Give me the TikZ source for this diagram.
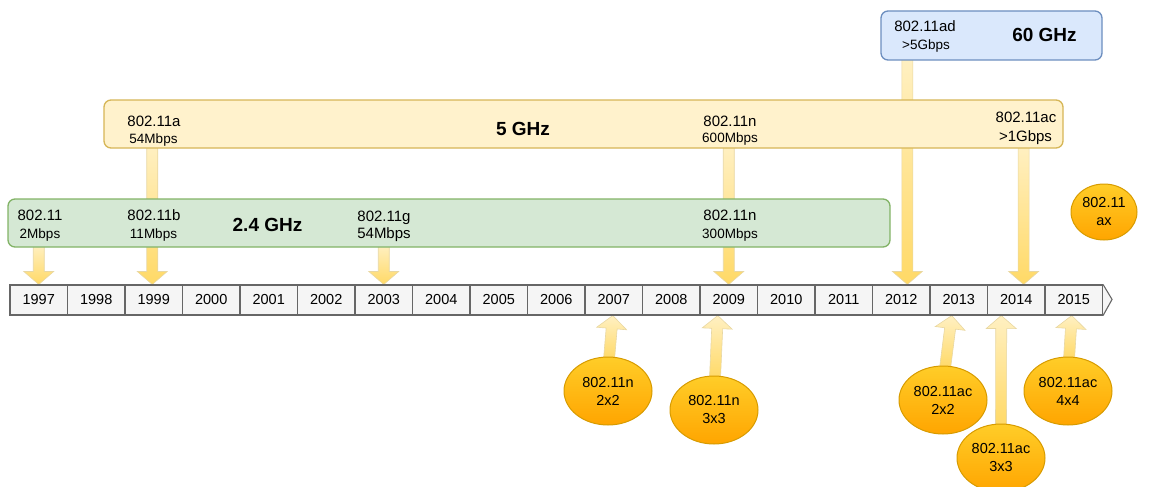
\documentclass[tikz,border=0pt]{standalone}
\usepackage{fontspec}
\setmainfont{Liberation Sans}
\usetikzlibrary{calc,shapes.geometric}
\pgfdeclarelayer{back}
\pgfsetlayers{back,main}

\definecolor{gfill}{HTML}{D5E8D4}\definecolor{gline}{HTML}{82B366}
\definecolor{yfill}{HTML}{FFF2CC}\definecolor{yline}{HTML}{D6B656}
\definecolor{bfill}{HTML}{DAE8FC}\definecolor{bline}{HTML}{6C8EBF}
\definecolor{cfill}{HTML}{F5F5F5}\definecolor{cline}{HTML}{666666}
\definecolor{atop}{HTML}{FFF0C2}\definecolor{abot}{HTML}{FFD966}
\definecolor{otop}{HTML}{FFCD28}\definecolor{obot}{HTML}{FFA500}
\definecolor{oline}{HTML}{D79B00}

% block arrow from #1 to #2 (tip at #2)
\newcommand\blockarrow[2]{%
  \coordinate (ba-s) at #1;
  \coordinate (ba-t) at #2;
  \coordinate (ba-h) at ($(ba-t)!13pt!(ba-s)$);
  \path[arrowbody]
    ($(ba-s)!5.5pt!90:(ba-t)$) -- ($(ba-h)!5.5pt!90:(ba-t)$) --
    ($(ba-h)!15pt!90:(ba-t)$) -- (ba-t) -- ($(ba-h)!15pt!-90:(ba-t)$) --
    ($(ba-h)!5.5pt!-90:(ba-t)$) -- ($(ba-s)!5.5pt!-90:(ba-t)$) -- cycle;
}

\tikzset{
  band/.style={rounded corners=7pt, line width=1.3pt, minimum height=48pt, inner sep=0pt},
  lab/.style={font=\fontsize{15}{18}\selectfont, inner sep=0pt, anchor=base},
  sml/.style={font=\fontsize{13.5}{16}\selectfont, inner sep=0pt, anchor=base},
  big/.style={font=\fontsize{19}{22}\selectfont\bfseries, inner sep=0pt, anchor=base},
  cell/.style={draw=cline, fill=cfill, line width=1.1pt, minimum width=57.5pt,
    minimum height=30pt, inner sep=0pt, font=\fontsize{14.5}{16}\selectfont},
  arrowbody/.style={top color=atop, bottom color=abot, draw=yline!55, line width=0.6pt},
  orb/.style={ellipse, top color=otop, bottom color=obot, draw=oline, line width=1pt,
    minimum width=88pt, minimum height=68pt, inner sep=0pt, align=center,
    font=\fontsize{14.5}{18}\selectfont},
}

\begin{document}
\begin{tikzpicture}[x=1pt, y=-1pt]
\useasboundingbox (0,0) rectangle (1162,487);

% frequency bands
\node[band, fill=gfill, draw=gline, minimum width=882pt] (g24) at (449,223) {};
\node[band, fill=yfill, draw=yline, minimum width=959pt] (g5) at (583.5,124) {};
\node[band, fill=bfill, draw=bline, minimum width=221pt, minimum height=49pt] (g60) at (991.5,35.5) {};

% 2.4 GHz labels
\node[lab] (t1a) at (40,220.5) {802.11};
\node[sml] (t1b) at (40,238) {2Mbps};
\node[lab] (t2a) at (154,220.5) {802.11b};
\node[sml] (t2b) at (153.5,238) {11Mbps};
\node[big] (t3)  at (267.5,231.8) {2.4 GHz};
\node[lab] (t4a) at (384,221) {802.11g};
\node[lab] (t4b) at (384,238.5) {54Mbps};
\node[lab] (t5a) at (730,220) {802.11n};
\node[sml] (t5b) at (730,238) {300Mbps};
% 5 GHz labels
\node[lab] (t6a) at (154,126) {802.11a};
\node[sml] (t6b) at (153.5,143) {54Mbps};
\node[big] (t7)  at (523,135.8) {5 GHz};
\node[lab] (t8a) at (730,126) {802.11n};
\node[sml] (t8b) at (730,142.5) {600Mbps};
\node[lab] (t9a) at (1026,122.5) {802.11ac};
\node[lab] (t9b) at (1025.5,141.5) {>1Gbps};
% 60 GHz labels
\node[lab] (t10a) at (925,32) {802.11ad};
\node[sml] (t10b) at (926,49.5) {>5Gbps};
\node[big] (t11)  at (1044.5,41.8) {60 GHz};

% timeline
\foreach \yr [count=\i from 0] in {1997,...,2015}
  \node[cell] (y\yr) at ({10+57.5*(\i+0.5)},300) {\yr};
\draw[draw=cline, fill=cfill, line width=1.1pt, line join=round]
  (y2015.north east) -- ++(9,15) -- (y2015.south east);

% products below the timeline
\node[orb] (e1) at (608,391) {802.11n\\2x2};
\node[orb] (e2) at (714,410) {802.11n\\3x3};
\node[orb] (e3) at (943,400) {802.11ac\\2x2};
\node[orb] (e4) at (1001,458) {802.11ac\\3x3};
\node[orb] (e5) at (1068,391) {802.11ac\\4x4};
\node[orb, minimum width=66pt, minimum height=56pt] (e6) at (1104,212) {802.11\\ax};

\coordinate (a12) at ($(g60.south west)+(27,-3)$);
\coordinate (a14) at ($(g5.south east)+(-40,-3)$);

\begin{pgfonlayer}{back}
  \blockarrow{($(g24.south -| y1997)+(0,-3)$)}{(y1997.north)}
  \blockarrow{($(g5.south -| y1999)+(-1.5,-3)$)}{($(y1999.north)+(-1.5,0)$)}
  \blockarrow{($(g24.south -| y2003)+(0,-3)$)}{(y2003.north)}
  \blockarrow{($(g5.south -| y2009)+(0,-3)$)}{(y2009.north)}
  \blockarrow{(a12)}{(a12 |- y2012.north)}
  \blockarrow{(a14)}{(a14 |- y2014.north)}
  \blockarrow{($(e1.north)+(1,3)$)}{($(y2007.south)+(-1,0)$)}
  \blockarrow{($(e2.north)+(1,3)$)}{($(y2009.south)+(-11,0)$)}
  \blockarrow{($(e3.north)+(2,3)$)}{($(y2013.south)+(-7,0)$)}
  \blockarrow{($(e4.north)+(0,3)$)}{($(y2014.south)+(-15,0)$)}
  \blockarrow{($(e5.north)+(1,3)$)}{($(y2015.south)+(-2,0)$)}
\end{pgfonlayer}
\end{tikzpicture}
\end{document}
